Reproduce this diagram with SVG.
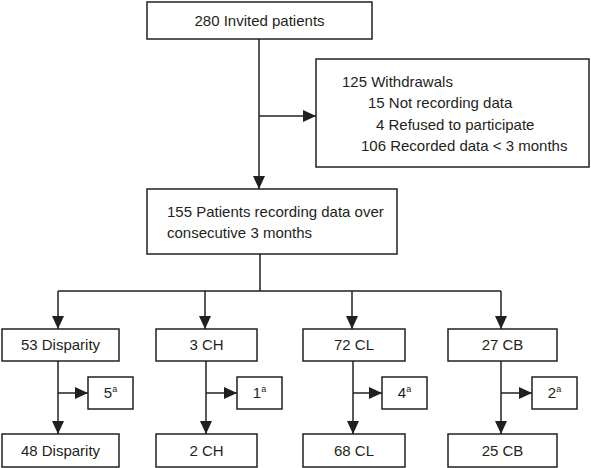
<svg xmlns="http://www.w3.org/2000/svg" width="591" height="468" viewBox="0 0 591 468">
<defs>
<style>
.box{fill:#fff;stroke:#231f20;stroke-width:1.5}
.ln{fill:none;stroke:#231f20;stroke-width:1.5}
.arr{marker-end:url(#ah)}
text{font-family:"Liberation Sans","Open Sans",sans-serif;font-size:15px;fill:#231f20}
.c{text-anchor:middle}
.sup{font-size:9px}
</style>
<marker id="ah" markerUnits="userSpaceOnUse" markerWidth="14" markerHeight="12" refX="13" refY="6" orient="auto">
<path d="M0,0 L13,6 L0,12 Z" fill="#231f20"/>
</marker>
</defs>
<g id="connectors">
<path class="ln arr" d="M259,39 V189"/>
<path class="ln arr" d="M259,116 H316"/>
<path class="ln" d="M260,254 V291 M58,291 H501"/>
<path class="ln arr" d="M58,291 V329"/>
<path class="ln arr" d="M205,291 V329"/>
<path class="ln arr" d="M352,291 V329"/>
<path class="ln arr" d="M501,291 V329"/>
<path class="ln arr" d="M58,361 V434"/>
<path class="ln arr" d="M58,393 H88"/>
<path class="ln arr" d="M206,361 V434"/>
<path class="ln arr" d="M206,393 H237"/>
<path class="ln arr" d="M353,361 V434"/>
<path class="ln arr" d="M353,393 H382"/>
<path class="ln arr" d="M501,361 V434"/>
<path class="ln arr" d="M501,393 H532"/>
</g>
<g id="invited">
<rect class="box" x="147" y="2" width="225" height="37"/>
<text class="c" x="259.5" y="26">280 Invited patients</text>
</g>
<g id="withdrawals">
<rect class="box" x="316" y="59" width="273" height="108"/>
<text x="342" y="87">125 Withdrawals</text>
<text x="368" y="108">15 Not recording data</text>
<text x="376" y="130">4 Refused to participate</text>
<text x="361" y="151">106 Recorded data &lt; 3 months</text>
</g>
<g id="recording">
<rect class="box" x="147" y="189" width="250" height="65"/>
<text x="167" y="217">155 Patients recording data over</text>
<text x="167" y="238">consecutive 3 months</text>
</g>
<g id="disparity53"><rect class="box" x="2" y="329" width="117" height="32"/><text class="c" x="60.5" y="350">53 Disparity</text></g>
<g id="ch3"><rect class="box" x="156" y="329" width="101" height="32"/><text class="c" x="206.5" y="350">3 CH</text></g>
<g id="cl72"><rect class="box" x="303" y="329" width="102" height="32"/><text class="c" x="354" y="350">72 CL</text></g>
<g id="cb27"><rect class="box" x="448" y="329" width="109" height="32"/><text class="c" x="502.5" y="350">27 CB</text></g>
<g id="ex5"><rect class="box" x="88" y="377" width="45" height="32"/><text class="c" x="110.5" y="398">5<tspan class="sup" dy="-6">a</tspan></text></g>
<g id="ex1"><rect class="box" x="237" y="377" width="45" height="32"/><text class="c" x="259.5" y="398">1<tspan class="sup" dy="-6">a</tspan></text></g>
<g id="ex4"><rect class="box" x="382" y="377" width="45" height="32"/><text class="c" x="404.5" y="398">4<tspan class="sup" dy="-6">a</tspan></text></g>
<g id="ex2"><rect class="box" x="532" y="377" width="45" height="32"/><text class="c" x="554.5" y="398">2<tspan class="sup" dy="-6">a</tspan></text></g>
<g id="disparity48"><rect class="box" x="2" y="434" width="117" height="33"/><text class="c" x="60.5" y="456">48 Disparity</text></g>
<g id="ch2"><rect class="box" x="156" y="434" width="101" height="33"/><text class="c" x="206.5" y="456">2 CH</text></g>
<g id="cl68"><rect class="box" x="303" y="434" width="102" height="33"/><text class="c" x="354" y="456">68 CL</text></g>
<g id="cb25"><rect class="box" x="448" y="434" width="109" height="33"/><text class="c" x="502.5" y="456">25 CB</text></g>
</svg>
